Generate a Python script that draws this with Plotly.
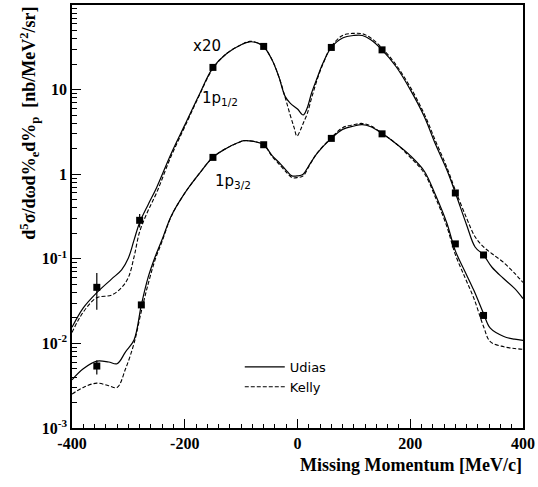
import plotly.graph_objects as go

# ---------------- data ----------------
# theory curves (x20 scaled 1p1/2 and 1p3/2), values in nb/MeV^2/sr (stored as log10)
up_x = [-400, -380, -356, -330, -312, -300, -290, -280, -265, -250, -225, -200, -175, -150,
        -125, -100, -85, -70, -60, -45, -33, -22, -13, 0, 10, 17, 25, 35, 45, 60, 80, 100,
        115, 130, 150, 175, 200, 225, 245, 265, 280, 300, 315, 330, 345, 365, 385, 400]
up_udias_log = [-1.81, -1.58, -1.40, -1.24, -1.13, -0.99, -0.78, -0.57, -0.36, -0.16, 0.23, 0.58,
                0.93, 1.26, 1.43, 1.53, 1.565, 1.55, 1.51, 1.35, 1.15, 0.92, 0.84, 0.77, 0.70,
                0.78, 0.96, 1.14, 1.31, 1.50, 1.61, 1.64, 1.64, 1.59, 1.47, 1.27, 1.00, 0.68,
                0.35, 0.05, -0.22, -0.60, -0.86, -0.955, -1.10, -1.23, -1.35, -1.47]

upk_x = [-400, -380, -356, -330, -312, -300, -290, -280, -265, -250, -225, -200, -175, -150,
         -125, -100, -85, -70, -60, -45, -33, -22, -13, -6, -1, 5, 10, 17, 25, 35, 45, 60, 80,
         100, 115, 130, 150, 175, 200, 225, 245, 265, 280, 300, 315, 330, 345, 365, 385, 400]
up_kelly_log = [-1.87, -1.63, -1.46, -1.43, -1.34, -1.22, -0.98, -0.68, -0.43, -0.22, 0.20, 0.56,
                0.92, 1.25, 1.43, 1.53, 1.57, 1.55, 1.51, 1.35, 1.15, 0.91, 0.70, 0.55, 0.45,
                0.52, 0.60, 0.71, 0.90, 1.12, 1.30, 1.51, 1.64, 1.665, 1.66, 1.61, 1.49, 1.29,
                1.03, 0.71, 0.39, 0.08, -0.19, -0.52, -0.74, -0.86, -0.94, -1.04, -1.17, -1.28]

lo_x = [-400, -380, -356, -335, -320, -305, -290, -277, -265, -253, -240, -224, -200, -175,
        -150, -125, -107, -95, -80, -60, -45, -30, -18, -10, 0, 10, 20, 35, 60, 80, 100, 115,
        130, 150, 175, 200, 225, 245, 265, 280, 297, 313, 330, 342, 366, 385, 400]
lo_udias_log = [-2.43, -2.30, -2.21, -2.22, -2.24, -2.10, -1.96, -1.545, -1.22, -0.985, -0.77,
                -0.494, -0.224, 0.0, 0.20, 0.31, 0.368, 0.396, 0.39, 0.349, 0.22, 0.12, 0.03,
                -0.02, -0.02, 0.0, 0.10, 0.25, 0.424, 0.53, 0.57, 0.585, 0.56, 0.48, 0.36, 0.22,
                0.035, -0.25, -0.58, -0.906, -1.15, -1.376, -1.647, -1.82, -1.918, -1.95, -1.965]
lo_kelly_log = [-2.60, -2.52, -2.47, -2.50, -2.52, -2.30, -2.00, -1.62, -1.30, -1.02, -0.79,
                -0.50, -0.224, 0.0, 0.20, 0.31, 0.368, 0.396, 0.39, 0.349, 0.21, 0.10, 0.01,
                -0.04, -0.04, -0.02, 0.09, 0.25, 0.43, 0.55, 0.585, 0.60, 0.57, 0.485, 0.36, 0.20,
                0.01, -0.28, -0.62, -0.95, -1.22, -1.47, -1.80, -1.98, -2.04, -2.06, -2.07]

# measured points
up_pts_x = [-356, -280, -150, -60, 60, 150, 280, 330]
up_pts_y = [0.046, 0.285, 18.3, 32.4, 31.5, 29.5, 0.6, 0.111]
up_err_p = [0.022, 0.054, 0, 0, 0, 0, 0, 0]
up_err_m = [0.021, 0.051, 0, 0, 0, 0, 0, 0]

lo_pts_x = [-356, -277, -150, -60, 60, 150, 280, 330]
lo_pts_y = [0.0054, 0.0285, 1.58, 2.23, 2.65, 3.0, 0.15, 0.0214]
lo_err_p = [0.0009, 0.002, 0, 0, 0, 0, 0, 0]
lo_err_m = [0.0011, 0.002, 0, 0, 0, 0, 0, 0]

x_tickvals = [-400, -200, 0, 200, 400]
x_ticktext = ["-400", "-200", "0", "200", "400"]
y_tickvals = [0.001, 0.01, 0.1, 1, 10]
y_ticktext = ["10<sup>-3</sup>", "10<sup>-2</sup>", "10<sup>-1</sup>", "1", "10"]

# ---------------- figure ----------------
def unlog(v):
    return [10 ** a for a in v]

fig = go.Figure()
line_solid = dict(color="black", width=1.2)
line_dash = dict(color="black", width=1.1, dash="4px,2px")

fig.add_trace(go.Scatter(x=up_x, y=unlog(up_udias_log), mode="lines", line=line_solid,
                         line_shape="spline", name="Udias", legendgroup="u"))
fig.add_trace(go.Scatter(x=upk_x, y=unlog(up_kelly_log), mode="lines", line=line_dash,
                         line_shape="spline", name="Kelly", legendgroup="k"))
fig.add_trace(go.Scatter(x=lo_x, y=unlog(lo_udias_log), mode="lines", line=line_solid,
                         line_shape="spline", name="Udias", legendgroup="u", showlegend=False))
fig.add_trace(go.Scatter(x=lo_x, y=unlog(lo_kelly_log), mode="lines", line=line_dash,
                         line_shape="spline", name="Kelly", legendgroup="k", showlegend=False))

for px, py, ep, em in [(up_pts_x, up_pts_y, up_err_p, up_err_m),
                       (lo_pts_x, lo_pts_y, lo_err_p, lo_err_m)]:
    fig.add_trace(go.Scatter(x=px, y=py, mode="markers",
                             marker=dict(symbol="square", size=7, color="black"),
                             error_y=dict(type="data", symmetric=False, array=ep, arrayminus=em,
                                          color="black", thickness=1.2, width=0),
                             showlegend=False))

tick_font = dict(family="Liberation Serif", size=16, color="black", weight="bold")
fig.update_xaxes(range=[-400, 400], tickvals=x_tickvals, ticktext=x_ticktext,
                 ticks="inside", ticklen=9, tickwidth=1, tickcolor="black",
                 minor=dict(dtick=20, ticks="inside", ticklen=4, tickcolor="black", showgrid=False),
                 showline=True, linecolor="black", linewidth=1.5, mirror=True,
                 showgrid=False, zeroline=False, tickfont=tick_font)
fig.update_yaxes(type="log", range=[-3, 2], tickvals=y_tickvals, ticktext=y_ticktext,
                 ticks="inside", ticklen=9, tickwidth=1, tickcolor="black",
                 minor=dict(dtick="D1", ticks="inside", ticklen=5, tickcolor="black", showgrid=False),
                 showline=True, linecolor="black", linewidth=1.5, mirror=True,
                 showgrid=False, zeroline=False, tickfont=tick_font)

lab_font = dict(family="DejaVu Sans", size=15, color="black", weight="normal")
fig.add_annotation(x=-160, y=1.518, xref="x", yref="y", text="x20", showarrow=False, font=lab_font)
fig.add_annotation(x=-137, y=0.90, xref="x", yref="y", text="1p<sub>1/2</sub>", showarrow=False, font=lab_font)
fig.add_annotation(x=-114, y=-0.085, xref="x", yref="y", text="1p<sub>3/2</sub>", showarrow=False, font=lab_font)

fig.add_annotation(x=-0.095, y=1.0, xref="paper", yref="paper", xanchor="center", yanchor="top",
                   text="d<sup>5</sup>σ/dωd%<sub>e</sub>d%<sub>p</sub>  [nb/MeV<sup>2</sup>/sr]",
                   textangle=-90, showarrow=False,
                   font=dict(family="Liberation Serif", size=18, color="black", weight="bold"))
fig.add_annotation(x=1.003, y=-0.087, xref="paper", yref="paper", xanchor="right", yanchor="middle",
                   text="Missing Momentum [MeV/c]", showarrow=False,
                   font=dict(family="Liberation Serif", size=18, color="black", weight="bold"))

fig.update_layout(width=538, height=487, margin=dict(l=72, r=12, t=3, b=59),
                  paper_bgcolor="white", plot_bgcolor="white",
                  legend=dict(x=0.372, y=0.18, xanchor="left", yanchor="top",
                              bgcolor="rgba(0,0,0,0)",
                              font=dict(family="DejaVu Sans", size=13, color="black", weight="normal"),
                              tracegroupgap=0, itemwidth=40))
fig.write_html("out.html")
